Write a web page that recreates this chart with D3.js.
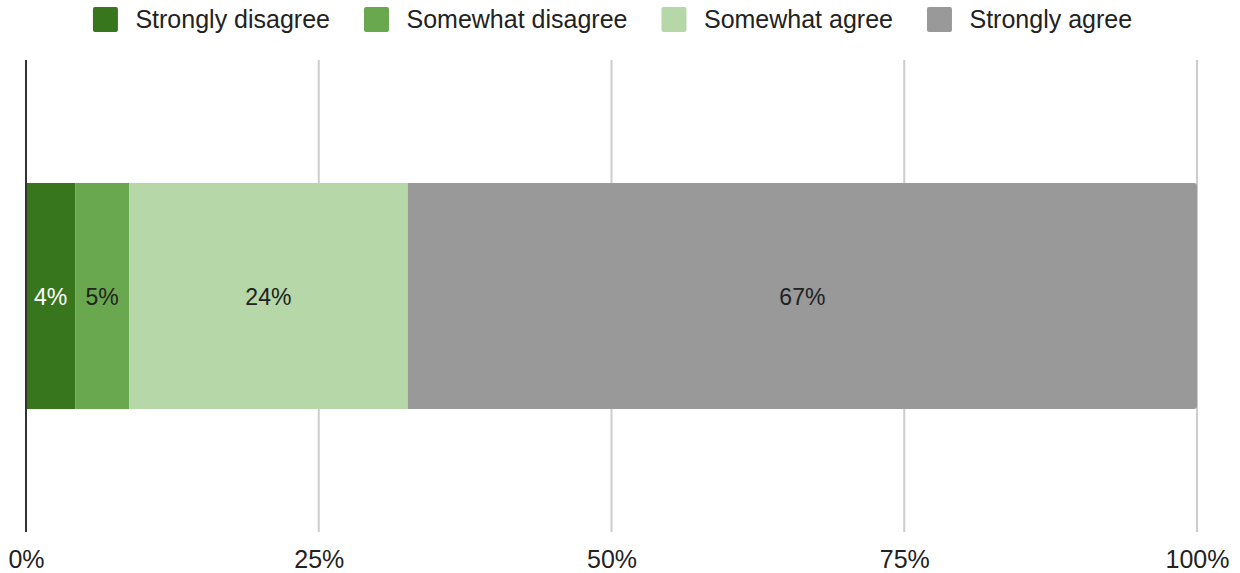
<!DOCTYPE html>
<html>
<head>
<meta charset="utf-8">
<script src="https://cdn.jsdelivr.net/npm/d3@7"></script>
<style>
  html, body { margin: 0; padding: 0; background: #fff; }
  svg { display: block; font-family: "Liberation Sans", Arial, sans-serif; }
</style>
</head>
<body>
<svg id="chart" width="1240" height="573"></svg>
<script>
const categories = ["Strongly disagree", "Somewhat disagree", "Somewhat agree", "Strongly agree"];
const values = [4.2, 4.6, 23.8, 67.4];
const labels = ["4%", "5%", "24%", "67%"];
const colors = ["#38761d", "#6aa84f", "#b6d7a8", "#999999"];
const labelColors = ["#ffffff", "#222222", "#222222", "#222222"];
const tickValues = [0, 25, 50, 75, 100];

const W = 1240, H = 573;
const svg = d3.select("#chart");
const plot = { left: 26, right: 1197, top: 60, bottom: 532 };

const x = d3.scaleLinear().domain([0, 100]).range([plot.left, plot.right]);
const y = d3.scaleBand().domain(["row"]).range([plot.top, plot.bottom]).paddingInner(0).paddingOuter(0.544);

// gridlines
svg.append("g").selectAll("line").data(tickValues.filter(v => v > 0)).join("line")
  .attr("x1", d => x(d)).attr("x2", d => x(d))
  .attr("y1", plot.top).attr("y2", plot.bottom)
  .attr("stroke", "#cccccc").attr("stroke-width", 2);

// stacked segments
let acc = 0;
const segs = values.map((v, i) => { const s = { i, x0: acc, x1: acc + v, v }; acc += v; return s; });
const by = y("row"), bh = y.bandwidth();
const r = 3;
const g = svg.append("g");
segs.forEach((s, k) => {
  const x0 = x(s.x0), x1 = x(s.x1);
  if (k === segs.length - 1) {
    const p = d3.path();
    p.moveTo(x0, by);
    p.lineTo(x1 - r, by);
    p.arcTo(x1, by, x1, by + r, r);
    p.lineTo(x1, by + bh - r);
    p.arcTo(x1, by + bh, x1 - r, by + bh, r);
    p.lineTo(x0, by + bh);
    p.closePath();
    g.append("path").attr("d", p.toString()).attr("fill", colors[s.i]);
  } else {
    g.append("rect").attr("x", x0).attr("y", by).attr("width", x1 - x0).attr("height", bh).attr("fill", colors[s.i]);
  }
});
g.selectAll("text").data(segs).join("text")
  .attr("x", d => (x(d.x0) + x(d.x1)) / 2)
  .attr("y", by + bh / 2 + 9)
  .attr("text-anchor", "middle")
  .attr("font-size", 23)
  .attr("fill", d => labelColors[d.i])
  .text(d => labels[d.i]);

// zero baseline
svg.append("line").attr("x1", x(0)).attr("x2", x(0)).attr("y1", plot.top).attr("y2", plot.bottom)
  .attr("stroke", "#333333").attr("stroke-width", 2);

// x axis
const axis = d3.axisBottom(x).tickValues(tickValues).tickSize(0).tickPadding(0).tickFormat(d => d + "%");
const ax = svg.append("g").attr("transform", `translate(0,${plot.bottom})`).call(axis);
ax.select(".domain").remove();
ax.selectAll("text").attr("font-size", 25).attr("fill", "#222222")
  .attr("font-family", "'Liberation Sans', Arial, sans-serif")
  .attr("dy", null).attr("y", 36);

// legend
const fs = 25, sq = 25, gapText = 17.5, gapItem = 34;
const measure = svg.append("text").attr("font-size", fs);
const widths = categories.map(c => { measure.text(c); return measure.node().getComputedTextLength(); });
measure.remove();
const total = widths.reduce((a, w) => a + sq + gapText + w, 0) + gapItem * (categories.length - 1);
let lx = (plot.left + plot.right) / 2 - total / 2 + 1;
const leg = svg.append("g");
categories.forEach((c, i) => {
  leg.append("rect").attr("x", lx).attr("y", 7).attr("width", sq).attr("height", sq)
    .attr("rx", 2).attr("fill", colors[i]);
  leg.append("text").attr("x", lx + sq + gapText).attr("y", 27.5)
    .attr("font-size", fs).attr("fill", "#222222").text(c);
  lx += sq + gapText + widths[i] + gapItem;
});
</script>
</body>
</html>
